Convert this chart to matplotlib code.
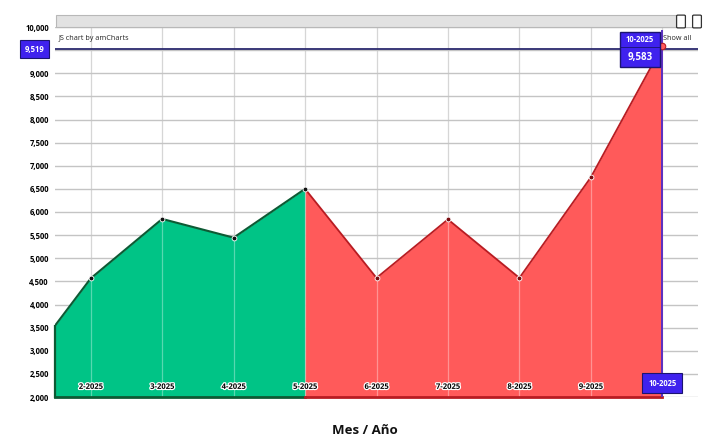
import matplotlib.pyplot as plt
import matplotlib.patheffects as pe
from matplotlib.patches import Rectangle, FancyBboxPatch
from matplotlib.ticker import FuncFormatter, MultipleLocator

plt.rcParams['font.family'] = ['Open Sans', 'DejaVu Sans']

# ─── data ─────────────────────────────────────────────────────────────────────
months = ["1-2025", "2-2025", "3-2025", "4-2025", "5-2025",
          "6-2025", "7-2025", "8-2025", "9-2025", "10-2025"]
values = [2520, 4565, 5850, 5445, 6500, 4575, 5840, 4575, 6750, 9583]
split_idx = 4          # green up to 5-2025, red after
guide_value = 9519     # horizontal cursor guide
cursor_idx = 9         # vertical cursor at 10-2025

GREEN = "#00c486"
GREEN_LINE = "#0d5a34"
RED = "#ff5a5a"
RED_LINE = "#b81c22"
CURSOR = "#3f22ee"
CURSOR_EDGE = "#1b1470"

x = list(range(len(months)))
x_lo, x_hi = 0.5, 9.5   # chart is zoomed: 1-2025 sits just off the left edge

fig = plt.figure(figsize=(7.03, 4.45), dpi=100)
ax = fig.add_axes([55 / 703, 48 / 445, 643 / 703, 370 / 445])

# grid below everything
ax.yaxis.set_major_locator(MultipleLocator(500))
ax.yaxis.set_major_formatter(
    FuncFormatter(lambda v, p: "" if v == 9500 else f"{int(v):,}"))  # hidden by the guide balloon
ax.grid(axis="y", color="#c4c4c4", lw=1.0)
ax.set_xticks(x)
ax.grid(axis="x", color="#d6d6d6", lw=0.9)
ax.set_axisbelow(True)
ax.set_ylim(2000, 10000)
ax.set_xlim(x_lo, x_hi)
ax.tick_params(axis="y", length=0, labelsize=5.5, pad=4.5)
ax.tick_params(axis="x", length=0, labelbottom=False)
for lbl in ax.get_yticklabels():
    lbl.set_fontweight("bold")
for s in ax.spines.values():
    s.set_visible(False)

# fills
xg, yg = x[:split_idx + 1], values[:split_idx + 1]
xr, yr = x[split_idx:], values[split_idx:]
ax.fill_between(xg, 2000, yg, color=GREEN, lw=0, zorder=2)
ax.fill_between(xr, 2000, yr, color=RED, lw=0, zorder=2)

# light category lines inside the fill
ax.vlines(x, 2000, values, colors="white", alpha=0.35, lw=0.9, zorder=3)

# outlines
ax.plot(xg, yg, color=GREEN_LINE, lw=1.5, zorder=4)
ax.plot(xr, yr, color=RED_LINE, lw=1.3, zorder=4)
edge_y = values[0] + (values[1] - values[0]) * (x_lo - x[0])
ax.plot([x_lo, x_lo], [2000, edge_y], color=GREEN_LINE, lw=1.6, zorder=4, clip_on=False)
ax.plot([x_lo, x[split_idx]], [2000, 2000], color=GREEN_LINE, lw=2, zorder=4, clip_on=False)
ax.plot([x[split_idx], x[-1]], [2000, 2000], color=RED_LINE, lw=2, zorder=4, clip_on=False)

# markers
ax.scatter(xg, yg, s=12, color="#111111", edgecolor="white", lw=0.6, zorder=5)
ax.scatter(xr[1:-1], yr[1:-1], s=12, color="#7a0d10", edgecolor="white", lw=0.6, zorder=5)
ax.scatter([x[cursor_idx]], [values[cursor_idx]], s=22, color=RED, edgecolor=RED_LINE,
           lw=0.8, zorder=6, clip_on=False)

# category labels inside plot
halo = [pe.withStroke(linewidth=1.8, foreground="white")]
for i in x[1:-1]:
    ax.text(i, 2230, months[i], ha="center", va="center", fontsize=5.5,
            fontweight="bold", color="black", path_effects=halo, zorder=6)

# cursor guides
ax.axhline(guide_value, color="#2b2a6e", lw=1.3, zorder=5)
ax.axvline(cursor_idx, ymax=0.99, color="#5a2fc2", lw=1.4, zorder=5)

# y guide balloon (left)
ax.annotate(f"{guide_value:,}", xy=(0, guide_value), xycoords=("axes fraction", "data"),
            xytext=(-15, 0), textcoords="offset points", ha="center", va="center",
            fontsize=5.5, color="white", fontweight="bold", annotation_clip=False,
            bbox=dict(boxstyle="square,pad=0.6", fc=CURSOR, ec=CURSOR_EDGE, lw=0.8), zorder=7)

# category balloon (bottom)
ax.annotate(months[cursor_idx], xy=(cursor_idx, 2000), xytext=(0, 10), textcoords="offset points",
            ha="center", va="center", fontsize=5.5, color="white", fontweight="bold",
            annotation_clip=False,
            bbox=dict(boxstyle="square,pad=0.75", fc=CURSOR, ec=CURSOR_EDGE, lw=0.8), zorder=7)

# value balloon (top)
ax.add_patch(Rectangle((0.879, 0.892), 0.062, 0.094, transform=ax.transAxes,
                       fc=CURSOR, ec=CURSOR_EDGE, lw=1.0, zorder=7, clip_on=False))
ax.plot([0.879, 0.941], [0.945, 0.945], transform=ax.transAxes, color=CURSOR_EDGE, lw=0.6, zorder=8)
ax.text(0.910, 0.966, months[cursor_idx], transform=ax.transAxes, ha="center", va="center",
        fontsize=5.5, color="white", fontweight="bold", zorder=8)
ax.text(0.910, 0.918, f"{values[cursor_idx]:,}", transform=ax.transAxes, ha="center", va="center",
        fontsize=7, color="white", fontweight="bold", zorder=8)

# small texts
ax.text(0.006, 0.968, "JS chart by amCharts", transform=ax.transAxes, fontsize=5.2,
        ha="left", va="center", color="#222222")
ax.text(0.946, 0.968, "Show all", transform=ax.transAxes, fontsize=5.2,
        ha="left", va="center", color="#222222", zorder=9)

# scrollbar on top
fig.patches.append(Rectangle((56 / 703, (445 - 27) / 445), 620 / 703, 12 / 445,
                             transform=fig.transFigure, fc="#e2e2e2", ec="#b8b8b8", lw=0.8))
for gx in (678, 694):
    fig.patches.append(FancyBboxPatch((gx / 703, (445 - 27) / 445), 6 / 703, 11 / 445,
                                      boxstyle="round,pad=0.002", transform=fig.transFigure,
                                      fc="white", ec="#333333", lw=0.9))

fig.text(365 / 703, 1 - 430 / 445, "Mes / Año", ha="center", va="center",
         fontsize=9.5, fontweight="bold", color="#111111")

fig.savefig("out.png", dpi=100)
